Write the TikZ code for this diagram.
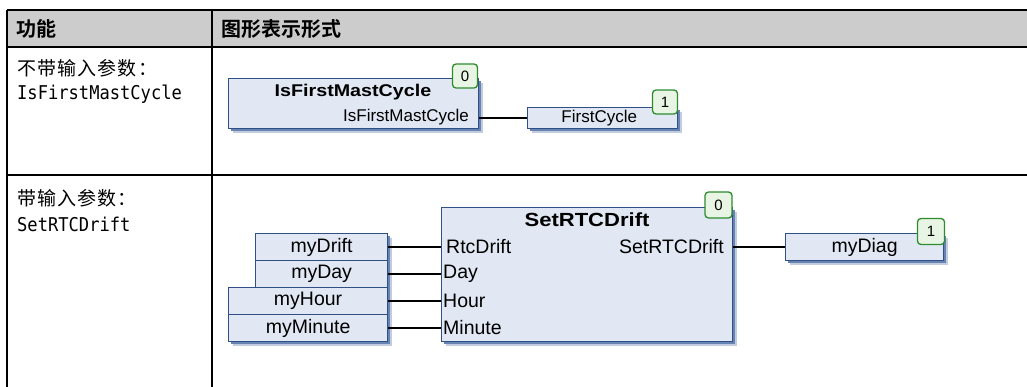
\documentclass[tikz,border=0pt]{standalone}
\usepackage{fontspec}
\usetikzlibrary{shadows}
\newfontfamily\cjk[BoldFont={Noto Sans CJK SC Bold}]{Noto Sans CJK SC}
\newfontfamily\cjksp[LetterSpace=6]{Noto Sans CJK SC}
\newfontfamily\tmono[FakeStretch=0.9]{DejaVu Sans Mono}
\newfontfamily\bx{Liberation Sans}
\newfontfamily\bxb[FakeStretch=1.16]{Liberation Sans}
\definecolor{hdr}{HTML}{CCCCCC}
\definecolor{fbfill}{HTML}{E1E8F4}
\definecolor{fbdraw}{HTML}{2F4F86}
\definecolor{shA}{HTML}{6783B2}
\definecolor{shB}{HTML}{C2CCDE}
\definecolor{bgfill}{HTML}{E8F5E4}
\definecolor{bgdraw}{HTML}{2E8B2E}
\tikzset{
  tline/.style={line width=1.3pt, black},
  hdrtext/.style={anchor=west, inner sep=0, font=\cjk\bfseries\fontsize{20}{20}\selectfont},
  cjktext/.style={anchor=west, inner sep=0, font=\cjksp\fontsize{19}{19}\selectfont},
  monotext/.style={anchor=west, inner sep=0, font=\tmono\fontsize{19}{19}\selectfont},
  fb/.style={draw=fbdraw, fill=fbfill, line width=1.2pt, inner sep=0, anchor=north west,
    general shadow={fill=shB, shadow xshift=4.5pt, shadow yshift=-4.5pt},
    general shadow={fill=shA, shadow xshift=2.5pt, shadow yshift=-2.5pt}},
  smallf/.style={font=\bx\fontsize{17}{17}\selectfont},
  bigf/.style={font=\bx\fontsize{19.5}{19.5}\selectfont},
  titleA/.style={inner sep=0, font=\bxb\bfseries\fontsize{17}{17}\selectfont},
  titleB/.style={inner sep=0, font=\bxb\bfseries\fontsize{19}{19}\selectfont},
  pin/.style={inner sep=0, font=\bx\fontsize{19.5}{19.5}\selectfont},
  badge/.style={draw=bgdraw, fill=bgfill, line width=1.3pt, rounded corners=3.5pt,
    minimum width=25pt, minimum height=24pt, inner sep=0,
    font=\bx\fontsize{15}{15}\selectfont},
  wire/.style={line width=1.3pt, black}
}
\begin{document}
\begin{tikzpicture}[x=1pt,y=-1pt]
\useasboundingbox (0,0) rectangle (1027,387);
% table
\fill[hdr] (7,10) rectangle (1027,47);
\draw[tline] (7,10) -- (1027,10);
\draw[tline] (7,47) -- (1027,47);
\draw[tline] (7,175) -- (1027,175);
\draw[tline] (7,10) -- (7,387);
\draw[tline] (212,10) -- (212,387);
\node[hdrtext] (h1) at (16,29) {功能};
\node[hdrtext] (h2) at (221,29) {图形表示形式};
\node[cjktext] (r1a) at (17,68) {不带输入参数：};
\node[monotext] (r1b) at (17,94) {IsFirstMastCycle};
\node[cjktext] (r2a) at (17,198) {带输入参数：};
\node[monotext] (r2b) at (17,224) {SetRTCDrift};
% row 1 diagram
\node[fb, minimum width=250pt, minimum height=50pt] (b1) at (228,78) {};
\node[titleA] (b1t) at (353,92) {IsFirstMastCycle};
\node[smallf, inner sep=0, anchor=east] (b1o) at (469,117) {IsFirstMastCycle};
\node[fb, smallf, anchor=north west, minimum width=150pt, minimum height=21pt] (fc) at (527,107) {\hspace*{-2pt}FirstCycle\phantom{.}};
\node[badge] (k0) at (465,76) {0};
\node[badge] (k1) at (665,102) {1};
\draw[wire] (fc.west -| b1.east) -- (fc.west);
% row 2 diagram
\node[fb, minimum width=291pt, minimum height=134pt] (f2) at (441,207) {};
\node[titleB] (f2t) at (587,220) {SetRTCDrift};
\node[pin, anchor=west] (p1) at (446,247) {RtcDrift};
\node[pin, anchor=west] (p2) at (443,273.5) {Day};
\node[pin, anchor=west] (p3) at (443,300.5) {Hour};
\node[pin, anchor=west] (p4) at (443,327.5) {Minute};
\node[pin, anchor=east] (po) at (724,247) {SetRTCDrift};
\node[fb, bigf, minimum width=132pt, minimum height=27pt] (i1) at (255,233) {myDrift};
\node[fb, bigf, minimum width=132pt, minimum height=27pt] (i2) at (255,260) {myDay};
\node[fb, bigf, minimum width=159pt, minimum height=27pt] (i3) at (228,287) {myHour};
\node[fb, bigf, minimum width=159pt, minimum height=27pt] (i4) at (228,314) {myMinute};
\node[fb, bigf, minimum width=158pt, minimum height=27pt] (dg) at (785,233) {myDiag};
\node[badge, minimum width=27pt, minimum height=26pt] (k2) at (718.5,205) {0};
\node[badge, minimum width=27pt, minimum height=26pt] (k3) at (931,231.5) {1};
\draw[wire] (i1.east) -- (i1.east -| f2.west);
\draw[wire] (i2.east) -- (i2.east -| f2.west);
\draw[wire] (i3.east) -- (i3.east -| f2.west);
\draw[wire] (i4.east) -- (i4.east -| f2.west);
\draw[wire] (dg.west -| f2.east) -- (dg.west);
\end{tikzpicture}
\end{document}
